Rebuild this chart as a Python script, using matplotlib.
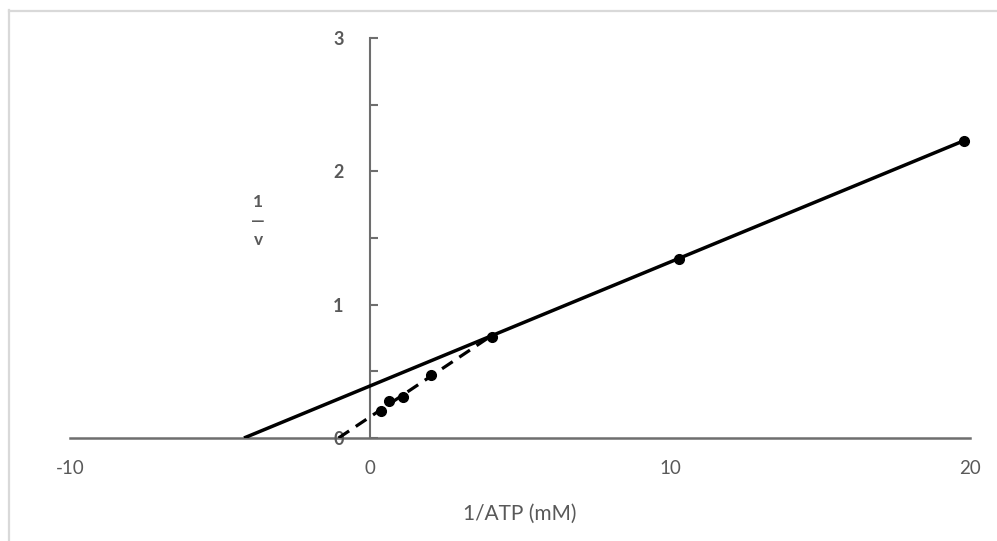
import matplotlib.pyplot as plt
from matplotlib.lines import Line2D

# measured points (1/ATP, 1/v)
inv_atp = [0.37, 0.63, 1.1, 2.03, 4.07, 10.3, 19.8]
inv_v = [0.20, 0.28, 0.31, 0.47, 0.76, 1.34, 2.23]

# fitted lines: solid through high-1/ATP points, dashed through low ones
solid_x = [-4.2, 19.8]
solid_y = [0.0, 2.23]
dash_x = [-1.05, 4.0]
dash_y = [0.0, 0.76]

x_ticks = [-10, 0, 10, 20]
y_ticks = [0, 1, 2, 3]
y_minor = [0.5, 1.5, 2.5]

plt.rcParams['font.family'] = ['Lato', 'DejaVu Sans']
gray = '#595959'
axis_gray = '#6e6e6e'

fig = plt.figure(figsize=(9.97, 5.41), dpi=100)
ax = fig.add_axes([70 / 997, 103 / 541, 900 / 997, 400 / 541])

ax.plot(solid_x, solid_y, color='black', lw=2.5, solid_capstyle='butt')
ax.plot(dash_x, dash_y, color='black', lw=2.3, linestyle=(0, (4, 2.5)))
ax.plot(inv_atp, inv_v, 'o', color='black', markersize=7)

ax.set_xlim(-10, 20)
ax.set_ylim(0, 3)

ax.spines['top'].set_visible(False)
ax.spines['right'].set_visible(False)
ax.spines['left'].set_position(('data', 0))
ax.spines['bottom'].set_position(('data', 0))
ax.spines['left'].set_color(axis_gray)
ax.spines['bottom'].set_color(axis_gray)
ax.spines['left'].set_linewidth(1.5)
ax.spines['bottom'].set_linewidth(1.8)
ax.spines['left'].set_zorder(0)
ax.spines['bottom'].set_zorder(0)

ax.set_xticks(x_ticks)
ax.set_xticklabels([str(t) for t in x_ticks])
ax.tick_params(axis='x', length=0, pad=16, labelsize=13.5, labelcolor=gray)

ax.set_yticks(y_ticks)
ax.set_yticks(y_minor, minor=True)
ax.set_yticklabels([str(t) for t in y_ticks], fontweight='bold')
ax.tick_params(axis='y', which='both', direction='in', length=6, width=1.5,
               color=axis_gray, pad=19, labelsize=13, labelcolor=gray)

ax.set_xlabel('1/ATP (mM)', fontsize=15, color=gray)
ax.xaxis.set_label_coords(0.5, -0.165)

ax.text(0.209, 0.5425, '1\n\u2014\nv', transform=ax.transAxes, ha='center',
        va='center', fontsize=12.5, fontweight='bold', color=gray, linespacing=1.25)

# light frame on top and left edges of the image
fig.add_artist(Line2D([9 / 997, 9 / 997], [0, 1 - 10 / 541], color='#d9d9d9', lw=1.6))
fig.add_artist(Line2D([9 / 997, 1], [1 - 11 / 541, 1 - 11 / 541], color='#d9d9d9', lw=1.6))

fig.savefig('out.png', dpi=100)
